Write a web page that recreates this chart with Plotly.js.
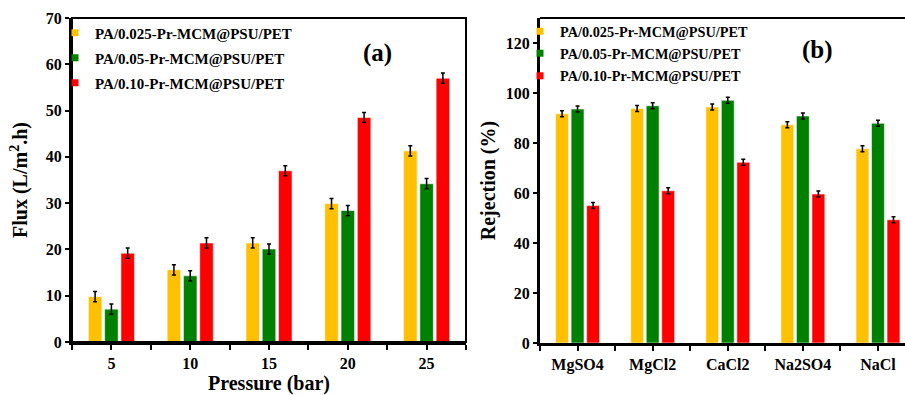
<!DOCTYPE html>
<html>
<head>
<meta charset="utf-8">
<script src="https://cdn.plot.ly/plotly-3.0.1.min.js"></script>
<style>html,body{margin:0;padding:0;background:#fff;}#chart{width:905px;height:395px;}</style>
</head>
<body>
<div id="chart"></div>
<script>
// ---- data ----
const seriesNames = ['PA/0.025-Pr-MCM@PSU/PET', 'PA/0.05-Pr-MCM@PSU/PET', 'PA/0.10-Pr-MCM@PSU/PET'];
const seriesColors = ['#FFC000', '#008000', '#FF0000'];

const pressures = ['5', '10', '15', '20', '25'];
const flux025 = [9.8, 15.6, 21.4, 29.9, 41.3];
const flux05 = [7.1, 14.3, 20.1, 28.4, 34.2];
const flux10 = [19.2, 21.4, 37.0, 48.5, 57.0];
const fluxErr025 = [1.1, 1.1, 1.1, 1.1, 1.1];
const fluxErr05 = [1.1, 1.1, 1.1, 1.1, 1.1];
const fluxErr10 = [1.1, 1.1, 1.1, 1.1, 1.1];

const salts = ['MgSO4', 'MgCl2', 'CaCl2', 'Na2SO4', 'NaCl'];
const rej025 = [91.7, 93.8, 94.4, 87.3, 77.7];
const rej05 = [93.6, 94.9, 97.1, 90.8, 87.9];
const rej10 = [55.0, 60.9, 72.3, 59.6, 49.3];
const rejErr025 = [1.2, 1.2, 1.2, 1.2, 1.2];
const rejErr05 = [1.2, 1.2, 1.2, 1.2, 1.2];
const rejErr10 = [1.2, 1.2, 1.2, 1.2, 1.2];

// ---- build ----
const W = 905, H = 395, T = 18, B = 52;
const PH = H - T - B;
const px = v => v / W;
const py = v => (H - B - v) / PH;
const FONT = 'Liberation Serif, Times New Roman, serif';

const idxA = pressures.map((_, i) => i);
const idxB = salts.map((_, i) => i);

function tickSet(cats) {
  const vals = [], text = [];
  for (let i = 0; i < cats.length; i++) {
    vals.push(i - 0.5); text.push(' ');
    vals.push(i); text.push(cats[i]);
  }
  vals.push(cats.length - 0.5); text.push(' ');
  return {vals, text};
}
const ticksA = tickSet(pressures);
const ticksB = tickSet(salts);

const fluxSets = [[flux025, fluxErr025], [flux05, fluxErr05], [flux10, fluxErr10]];
const rejSets = [[rej025, rejErr025], [rej05, rejErr05], [rej10, rejErr10]];

const traces = [];
function barTrace(x, y, err, color, xa, ya) {
  return {
    type: 'bar', x: x, y: y, xaxis: xa, yaxis: ya, showlegend: false,
    marker: {color: color, line: {color: 'rgba(255,255,255,0.7)', width: 0.8}},
    error_y: {type: 'data', array: err, visible: true, color: '#000', thickness: 1.5, width: 2},
    hoverinfo: 'y'
  };
}
fluxSets.forEach((s, k) => traces.push(barTrace(idxA, s[0], s[1], seriesColors[k], 'x', 'y')));
rejSets.forEach((s, k) => traces.push(barTrace(idxB, s[0], s[1], seriesColors[k], 'x2', 'y2')));

// legend entries (one legend per entry for exact placement)
const legendNames = ['legend', 'legend2', 'legend3', 'legend4', 'legend5', 'legend6'];
const legendPos = [
  {x: 96, y: 33}, {x: 96, y: 58}, {x: 96, y: 83},
  {x: 561, y: 31.5}, {x: 561, y: 53.5}, {x: 561, y: 76}
];
for (let p = 0; p < 2; p++) {
  for (let k = 0; k < 3; k++) {
    traces.push({
      type: 'scatter', mode: 'markers', x: [null], y: [null],
      xaxis: p === 0 ? 'x' : 'x2', yaxis: p === 0 ? 'y' : 'y2',
      name: seriesNames[k], legend: legendNames[p * 3 + k], showlegend: true,
      marker: {symbol: 'square', size: 7, color: seriesColors[k]}
    });
  }
}

const TEXT_OFFSET = 41;
const layout = {
  width: W, height: H,
  margin: {l: 0, r: 0, t: T, b: B, pad: 0},
  paper_bgcolor: '#fff', plot_bgcolor: '#fff',
  font: {family: FONT, color: '#000', size: 15, weight: 'bold'},
  barmode: 'group', bargap: 0.38, bargroupgap: 0.17,
  xaxis: {
    domain: [px(72), px(466)], range: [-0.5, 4.5],
    tickmode: 'array', tickvals: ticksA.vals, ticktext: ticksA.text,
    ticks: 'outside', ticklen: 5, tickwidth: 2, tickcolor: '#000',
    showline: true, linewidth: 3, linecolor: '#000', showgrid: false, zeroline: false,
    tickfont: {family: FONT, size: 16, weight: 'bold'},
    title: {text: 'Pressure (bar)', font: {family: FONT, size: 20, weight: 'bold'}, standoff: 13},
    anchor: 'y'
  },
  yaxis: {
    domain: [0.003, 1], range: [0, 70], dtick: 10,
    ticks: 'outside', ticklen: 4, tickwidth: 2, tickcolor: '#000',
    showline: true, linewidth: 3, linecolor: '#000', showgrid: false, zeroline: false,
    tickfont: {family: FONT, size: 16, weight: 'bold'},
    title: {text: 'Flux (L/m<sup>2</sup>.h)', font: {family: FONT, size: 20, weight: 'bold'}, standoff: 13},
    anchor: 'x'
  },
  xaxis2: {
    domain: [px(540), 1], range: [-0.5, 4.36],
    tickmode: 'array', tickvals: ticksB.vals, ticktext: ticksB.text,
    ticks: 'outside', ticklen: 5, tickwidth: 2, tickcolor: '#000',
    showline: true, linewidth: 3, linecolor: '#000', showgrid: false, zeroline: false,
    tickfont: {family: FONT, size: 16, weight: 'bold'},
    anchor: 'y2'
  },
  yaxis2: {
    domain: [0, 1], range: [0, 130], dtick: 20,
    ticks: 'outside', ticklen: 4, tickwidth: 2, tickcolor: '#000',
    showline: true, linewidth: 3, linecolor: '#000', showgrid: false, zeroline: false,
    tickfont: {family: FONT, size: 16, weight: 'bold'},
    title: {text: 'Rejection (%)', font: {family: FONT, size: 20, weight: 'bold'}, standoff: 5},
    anchor: 'x2'
  },
  shapes: [
    {type: 'rect', xref: 'x domain', yref: 'y domain', x0: 0, x1: 1, y0: 0, y1: 1,
     line: {color: '#000', width: 2}, layer: 'above'},
    {type: 'line', xref: 'x2 domain', yref: 'y2 domain', x0: 0, x1: 1, y0: 1, y1: 1,
     line: {color: '#000', width: 2}, layer: 'above'}
  ],
  annotations: [
    {text: '(a)', xref: 'paper', yref: 'paper', x: px(377), y: py(53), showarrow: false,
     font: {family: FONT, size: 25, weight: 'bold'}, xanchor: 'center', yanchor: 'middle'},
    {text: '(b)', xref: 'paper', yref: 'paper', x: px(817), y: py(50), showarrow: false,
     font: {family: FONT, size: 25, weight: 'bold'}, xanchor: 'center', yanchor: 'middle'}
  ]
};
legendNames.forEach((ln, i) => {
  layout[ln] = {
    x: px(legendPos[i].x - TEXT_OFFSET), y: py(legendPos[i].y),
    xanchor: 'left', yanchor: 'middle', bgcolor: 'rgba(0,0,0,0)', borderwidth: 0,
    font: {family: FONT, size: i < 3 ? 15 : 14.3, weight: 'bold', color: '#000'}
  };
});

Plotly.newPlot('chart', traces, layout, {displayModeBar: false, staticPlot: true});
</script>
</body>
</html>
